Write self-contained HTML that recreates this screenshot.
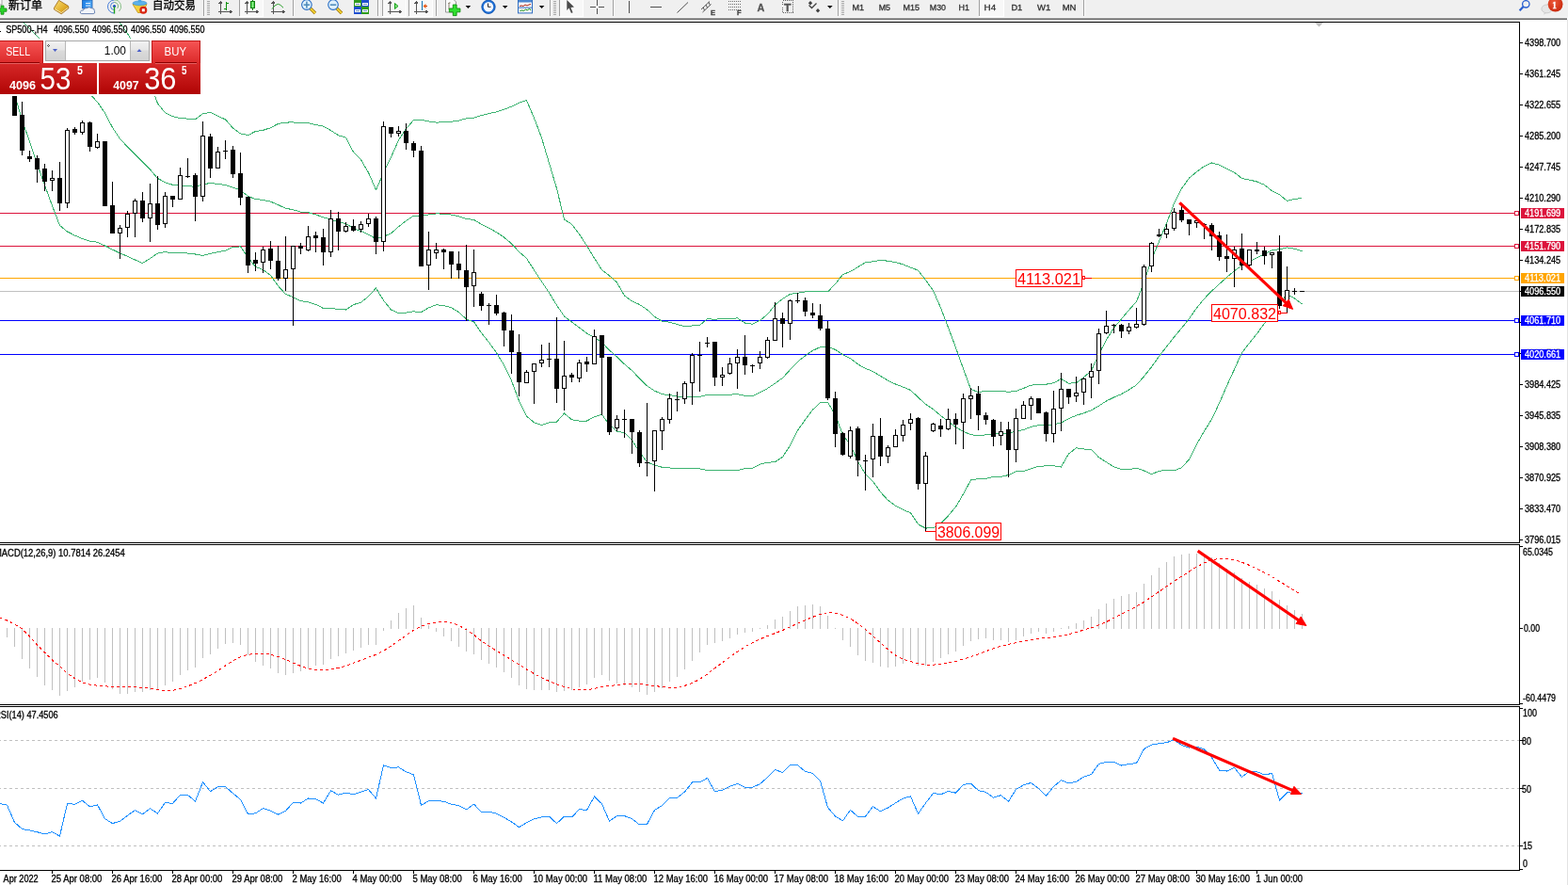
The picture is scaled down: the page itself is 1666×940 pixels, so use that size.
<!DOCTYPE html><html><head><meta charset="utf-8"><title>SP500-,H4</title>
<style>html,body{margin:0;padding:0;background:#fff;overflow:hidden}svg{display:block}text{font-family:'Liberation Sans', Arial, sans-serif}.sl text{stroke:currentColor;stroke-width:0.3}</style></head><body>
<svg width="1666" height="940" viewBox="0 0 1666 940">
<defs>
<linearGradient id="gSellTop" x1="0" y1="0" x2="0" y2="1"><stop offset="0" stop-color="#f65555"/><stop offset="1" stop-color="#dc2a2a"/></linearGradient>
<linearGradient id="gSellBot" x1="0" y1="0" x2="0" y2="1"><stop offset="0" stop-color="#d62828"/><stop offset="1" stop-color="#b00404"/></linearGradient>
<linearGradient id="gBtn" x1="0" y1="0" x2="0" y2="1"><stop offset="0" stop-color="#f2f2f2"/><stop offset="0.45" stop-color="#e6e6e6"/><stop offset="0.5" stop-color="#dadada"/><stop offset="1" stop-color="#d2d2d2"/></linearGradient>
<clipPath id="cMain"><rect x="0" y="24" width="1614" height="552"/></clipPath>
<clipPath id="cMacd"><rect x="0" y="579" width="1614" height="169"/></clipPath>
<clipPath id="cRsi"><rect x="0" y="751" width="1614" height="173"/></clipPath>
</defs>
<rect x="0" y="0" width="1666" height="18" fill="#f0f0f0"/>
<rect x="0" y="18" width="1666" height="1" fill="#f5f5f5"/>
<rect x="0" y="19" width="1665" height="1" fill="#a0a0a0"/>
<rect x="0" y="20" width="1665" height="1" fill="#696969"/>
<rect x="1665" y="21" width="1" height="919" fill="#e3e3e3"/>
<g class="sl">
<path d="M-3,-1 h5 v6 h-5 z" fill="#fafafa" stroke="#909090" stroke-width="0.8"/>
<path d="M-2,9 h3 v-3 h3 v3 h3 v3.2 h-3 v3 h-3 v-3 h-3 z" fill="#2ad42a" stroke="#0f8a0f" stroke-width="0.8"/>
<text x="9" y="9.5" font-size="12" fill="#000" color="#000" textLength="36" lengthAdjust="spacingAndGlyphs" style="font-family:'Liberation Sans','Noto Sans CJK SC','WenQuanYi Zen Hei',sans-serif" stroke="#000" stroke-width="0.25">新订单</text>
<defs><linearGradient id="gGold" x1="0" y1="0" x2="1" y2="1"><stop offset="0" stop-color="#fbe27a"/><stop offset="0.6" stop-color="#e2ae2a"/><stop offset="1" stop-color="#b87c12"/></linearGradient><linearGradient id="gBlueDoc" x1="0" y1="0" x2="1" y2="0"><stop offset="0" stop-color="#1e7fe6"/><stop offset="1" stop-color="#52aaf5"/></linearGradient></defs>
<path d="M62.5,0.3 L72.6,6.4 L72.9,8.8 L65.2,14.8 L57.4,10 L57.6,8.2 Z" fill="url(#gGold)" stroke="#9a6510" stroke-width="0.8"/>
<path d="M58.3,9.6 L65.2,13.6 L72.2,8.2" fill="none" stroke="#f3e2a8" stroke-width="1"/>
<path d="M87.5,0 h10.5 v9 h-10.5 z" fill="url(#gBlueDoc)" stroke="#1a5cb0" stroke-width="0.8"/>
<rect x="91" y="3" width="5" height="1" fill="#e0f0ff"/><rect x="91" y="5.5" width="5" height="1" fill="#e0f0ff"/>
<path d="M86.6,14.6 Q85,14.4 85.4,12.4 Q86,10.6 88.4,11 Q89,8.2 92.4,8.6 Q94.6,6.8 97.2,8.6 Q100.6,8.6 100.4,11.6 Q101.6,14.6 99,14.6 Z" fill="#f2f5fa" stroke="#5c78ac" stroke-width="0.9"/>
<g fill="none" stroke-width="1"><path d="M121.5,0 A7,7 0 0 0 121.5,14" stroke="#4a7fd8"/><path d="M121.5,0 A7,7 0 0 1 126.5,12" stroke="#88c088"/><path d="M121.5,2.5 A4,4 0 0 0 121.5,10.5" stroke="#4a7fd8"/><path d="M121.5,2.5 A4,4 0 0 1 124.8,8.8" stroke="#70b070"/></g>
<circle cx="121.5" cy="6.5" r="1.6" fill="#2050c0"/><path d="M121.5,7 v7.5" stroke="#1da01d" stroke-width="1.4"/>
<path d="M141,4.5 L156,4.5 L151.5,13.5 L146.5,13.5 Z" fill="#f4d23c" stroke="#c09018" stroke-width="0.8"/>
<ellipse cx="148.5" cy="3.4" rx="7.4" ry="2.4" fill="#5cb2ea" stroke="#2f86c8" stroke-width="0.6"/>
<path d="M147,0 h3 l0.5,2.5 h-4 z" fill="#4aa6e6"/>
<circle cx="152.3" cy="10.8" r="4" fill="#d82410"/><rect x="150.8" y="9.3" width="3" height="3" fill="#fff"/>
<text x="162" y="9.5" font-size="12" fill="#000" color="#000" textLength="46" lengthAdjust="spacingAndGlyphs" style="font-family:'Liberation Sans','Noto Sans CJK SC','WenQuanYi Zen Hei',sans-serif" stroke="#000" stroke-width="0.25">自动交易</text>
<g shape-rendering="crispEdges">
<rect x="216" y="0" width="1" height="17" fill="#a0a0a0"/><rect x="217" y="0" width="1" height="17" fill="#fbfbfb"/>
<rect x="220" y="1" width="3" height="1" fill="#a8a8a8"/>
<rect x="220" y="3" width="3" height="1" fill="#a8a8a8"/>
<rect x="220" y="5" width="3" height="1" fill="#a8a8a8"/>
<rect x="220" y="7" width="3" height="1" fill="#a8a8a8"/>
<rect x="220" y="9" width="3" height="1" fill="#a8a8a8"/>
<rect x="220" y="11" width="3" height="1" fill="#a8a8a8"/>
<rect x="220" y="13" width="3" height="1" fill="#a8a8a8"/>
<rect x="220" y="15" width="3" height="1" fill="#a8a8a8"/>
<g fill="#555"><rect x="234" y="2" width="1" height="13"/><rect x="232" y="12" width="13" height="1"/><path d="M232.5,3.5 L234.5,1 L236.5,3.5 Z"/><path d="M244,10.5 L247,12.5 L244,14.5 Z"/></g>
<path d="M240.5,2 v9 M240.5,3.5 h2.5 M240.5,9.5 h-2.5" stroke="#119011" stroke-width="1" fill="none"/>
<rect x="254" y="0" width="1" height="17" fill="#a0a0a0"/>
<rect x="255" y="0" width="24" height="17" fill="#f8f8f8"/>
<rect x="255" y="17" width="25" height="1" fill="#ffffff"/><rect x="279" y="0" width="1" height="17" fill="#ffffff"/>
<g fill="#555"><rect x="262" y="2" width="1" height="13"/><rect x="260" y="12" width="13" height="1"/><path d="M260.5,3.5 L262.5,1 L264.5,3.5 Z"/><path d="M272,10.5 L275,12.5 L272,14.5 Z"/></g>
</g>
<defs><linearGradient id="gCnd" x1="0" y1="0" x2="1" y2="0"><stop offset="0" stop-color="#2ac42a"/><stop offset="0.5" stop-color="#8af08a"/><stop offset="1" stop-color="#20b020"/></linearGradient></defs>
<rect x="268" y="0" width="1" height="11" fill="#0f800f"/><rect x="266.5" y="1.5" width="4" height="7" fill="url(#gCnd)" stroke="#0f800f" stroke-width="1"/>
<g shape-rendering="crispEdges">
<g fill="#555"><rect x="290" y="2" width="1" height="13"/><rect x="288" y="12" width="13" height="1"/><path d="M288.5,3.5 L290.5,1 L292.5,3.5 Z"/><path d="M300,10.5 L303,12.5 L300,14.5 Z"/></g>
</g>
<path d="M289,9.5 Q292,5 295.3,4.3 Q297.5,4.3 301,8.2" fill="none" stroke="#2aa02a" stroke-width="1"/>
<g shape-rendering="crispEdges">
<rect x="311" y="0" width="1" height="17" fill="#a0a0a0"/><rect x="312" y="0" width="1" height="17" fill="#fbfbfb"/>
</g>
<path d="M329.5,8.6 L334.9,14" stroke="#9a6e08" stroke-width="3.4" stroke-linecap="butt"/>
<path d="M329.5,8.6 L334.9,14" stroke="#f0d030" stroke-width="2" stroke-linecap="butt"/>
<circle cx="325.9" cy="5.1" r="5.3" fill="#dff1fc" stroke="#2a6ec4" stroke-width="1.1"/>
<rect x="322.7" y="4.4" width="6.4" height="1.5" fill="#4a88b8"/>
<rect x="325.15" y="1.6" width="1.5" height="7" fill="#4a88b8"/>
<path d="M357.6,8.6 L363,14" stroke="#9a6e08" stroke-width="3.4" stroke-linecap="butt"/>
<path d="M357.6,8.6 L363,14" stroke="#f0d030" stroke-width="2" stroke-linecap="butt"/>
<circle cx="354" cy="5.1" r="5.3" fill="#dff1fc" stroke="#2a6ec4" stroke-width="1.1"/>
<rect x="350.8" y="4.4" width="6.4" height="1.5" fill="#4a88b8"/>
<g shape-rendering="crispEdges"><rect x="376" y="0" width="8" height="7" fill="#2f9a1e"/><rect x="384" y="0" width="8" height="7" fill="#1f4fcf"/><rect x="376" y="7" width="8" height="8" fill="#1f4fcf"/><rect x="384" y="7" width="8" height="8" fill="#2f9a1e"/><g fill="#f4f8f4"><rect x="377" y="3" width="6" height="3"/><rect x="385" y="3" width="6" height="3"/><rect x="377" y="10" width="6" height="3"/><rect x="385" y="10" width="6" height="3"/></g><g fill="#7a9ad0"><rect x="378" y="4" width="4" height="1"/><rect x="386" y="4" width="4" height="1"/><rect x="378" y="11" width="4" height="1"/><rect x="386" y="11" width="4" height="1"/></g></g>
<g shape-rendering="crispEdges">
<rect x="401" y="0" width="1" height="17" fill="#a0a0a0"/><rect x="402" y="0" width="1" height="17" fill="#fbfbfb"/>
<rect x="406" y="0" width="25" height="17" fill="#f8f8f8"/>
<rect x="406" y="17" width="26" height="1" fill="#ffffff"/><rect x="431" y="0" width="1" height="17" fill="#ffffff"/>
<rect x="406" y="0" width="1" height="17" fill="#a0a0a0"/>
<g fill="#555"><rect x="414" y="2" width="1" height="13"/><rect x="412" y="12" width="13" height="1"/><path d="M412.5,3.5 L414.5,1 L416.5,3.5 Z"/><path d="M424,10.5 L427,12.5 L424,14.5 Z"/></g>
</g>
<path d="M419.5,3.5 L423,6.5 L419.5,9.5 Z" fill="#7ee07e" stroke="#15a015" stroke-width="1"/>
<g shape-rendering="crispEdges">
<rect x="435" y="0" width="24" height="17" fill="#f8f8f8"/>
<rect x="435" y="17" width="25" height="1" fill="#ffffff"/><rect x="459" y="0" width="1" height="17" fill="#ffffff"/>
<rect x="434" y="0" width="1" height="17" fill="#a0a0a0"/>
<g fill="#555"><rect x="442" y="2" width="1" height="13"/><rect x="440" y="12" width="13" height="1"/><path d="M440.5,3.5 L442.5,1 L444.5,3.5 Z"/><path d="M452,10.5 L455,12.5 L452,14.5 Z"/></g>
<rect x="448" y="1" width="1" height="10" fill="#1070b0"/>
</g>
<path d="M454,6.5 h-3.5" stroke="#c84010" stroke-width="1.2"/><path d="M449.5,6.5 l3,-2.5 v5 z" fill="#ee5a10"/>
<g shape-rendering="crispEdges">
<rect x="463" y="0" width="1" height="17" fill="#a0a0a0"/><rect x="464" y="0" width="1" height="17" fill="#fbfbfb"/>
</g>
<path d="M473.5,-1 h8 l3,3 v11 h-11 z" fill="#fafafa" stroke="#808080" stroke-width="0.8"/>
<path d="M476.5,4 q1,-2 2,-1 M477,3 v7" stroke="#5a4a30" stroke-width="0.7" fill="none"/>
<path d="M477.3,9 h4 v-4 h3.8 v4 h3.8 v3.8 h-3.8 v3.8 h-3.8 v-3.8 h-4 z" fill="#30e030" stroke="#0c900c" stroke-width="0.9"/>
<path d="M494.6,6 h5.6 l-2.8,3 z" fill="#000"/>
<circle cx="519" cy="7.3" r="7.2" fill="#1d6fd6" stroke="#0f4fa8" stroke-width="0.8"/><circle cx="519" cy="7.3" r="5.2" fill="#f6f9ff"/><path d="M518.5,3.5 v3.8 h3" stroke="#222" stroke-width="1" fill="none"/><rect x="517.5" y="-1" width="3" height="1.5" fill="#1d6fd6"/>
<path d="M533.9,6 h5.6 l-2.8,3 z" fill="#000"/>
<rect x="550.5" y="0.5" width="15" height="13.4" fill="#f8f8f8" stroke="#2f6cc0"/><rect x="551" y="0" width="14" height="2.5" fill="#4a86d0"/><rect x="551" y="7.6" width="14" height="1" fill="#2f6cc0"/>
<path d="M552,6.5 l2,-0.5 l2,0.5 l2,-1.5 l2,1 l2,-1 l2,-0.5" stroke="#b02010" fill="none" stroke-width="1"/><path d="M552.5,11.5 l2,-0.5 l2,0.5 l2,-1.5 l2,1 l2,-2 l1.5,2" stroke="#109010" fill="none" stroke-width="1"/>
<path d="M572.8,6 h5.6 l-2.8,3 z" fill="#000"/>
<g shape-rendering="crispEdges">
<rect x="584" y="0" width="1" height="17" fill="#a0a0a0"/><rect x="585" y="0" width="1" height="17" fill="#fbfbfb"/>
<rect x="588" y="1" width="3" height="1" fill="#a8a8a8"/>
<rect x="588" y="3" width="3" height="1" fill="#a8a8a8"/>
<rect x="588" y="5" width="3" height="1" fill="#a8a8a8"/>
<rect x="588" y="7" width="3" height="1" fill="#a8a8a8"/>
<rect x="588" y="9" width="3" height="1" fill="#a8a8a8"/>
<rect x="588" y="11" width="3" height="1" fill="#a8a8a8"/>
<rect x="588" y="13" width="3" height="1" fill="#a8a8a8"/>
<rect x="588" y="15" width="3" height="1" fill="#a8a8a8"/>
<rect x="595" y="0" width="24" height="17" fill="#f8f8f8"/>
<rect x="595" y="17" width="25" height="1" fill="#ffffff"/><rect x="619" y="0" width="1" height="17" fill="#ffffff"/>
<rect x="594" y="0" width="1" height="17" fill="#a0a0a0"/>
</g>
<path d="M602.3,0 V11 L604.6,8.6 L607,13.9 L608.6,13.2 L606.4,8 L610,7.6 Z" fill="#4a4a4a"/>
<g shape-rendering="crispEdges" fill="#505050"><rect x="627" y="7" width="6" height="1"/><rect x="636" y="7" width="6" height="1"/><rect x="634" y="0" width="1" height="6"/><rect x="634" y="9" width="1" height="6"/>
<rect x="668" y="1" width="1" height="13"/><rect x="691" y="7" width="12" height="1"/></g>
<g shape-rendering="crispEdges">
<rect x="651" y="0" width="1" height="17" fill="#a0a0a0"/><rect x="652" y="0" width="1" height="17" fill="#fbfbfb"/>
</g>
<path d="M719.5,13.5 L731,2.5" stroke="#505050" stroke-width="1" fill="none"/>
<g stroke="#484848" stroke-width="0.9" fill="none"><path d="M745,10 l9,-8.5 M746.5,13 l9,-8.5 M748.5,11 l-1.3,-3.2 M751.5,8.3 l-1.3,-3.2 M754.3,5.5 l-1.3,-3.2"/></g>
<text x="755" y="15.5" font-size="7.5" fill="#404040" color="#404040" font-weight="bold" >E</text>
<g fill="#707070" shape-rendering="crispEdges"><rect x="774" y="1" width="1" height="1"/><rect x="776" y="1" width="1" height="1"/><rect x="778" y="1" width="1" height="1"/><rect x="780" y="1" width="1" height="1"/><rect x="782" y="1" width="1" height="1"/><rect x="784" y="1" width="1" height="1"/><rect x="786" y="1" width="1" height="1"/><rect x="774" y="4" width="1" height="1"/><rect x="776" y="4" width="1" height="1"/><rect x="778" y="4" width="1" height="1"/><rect x="780" y="4" width="1" height="1"/><rect x="782" y="4" width="1" height="1"/><rect x="784" y="4" width="1" height="1"/><rect x="786" y="4" width="1" height="1"/><rect x="774" y="7" width="1" height="1"/><rect x="776" y="7" width="1" height="1"/><rect x="778" y="7" width="1" height="1"/><rect x="780" y="7" width="1" height="1"/><rect x="782" y="7" width="1" height="1"/><rect x="784" y="7" width="1" height="1"/><rect x="786" y="7" width="1" height="1"/><rect x="774" y="10" width="1" height="1"/><rect x="776" y="10" width="1" height="1"/><rect x="778" y="10" width="1" height="1"/><rect x="780" y="10" width="1" height="1"/><rect x="782" y="10" width="1" height="1"/><rect x="784" y="10" width="1" height="1"/><rect x="786" y="10" width="1" height="1"/></g>
<text x="783" y="15.5" font-size="7.5" fill="#404040" color="#404040" font-weight="bold" >F</text>
<text x="804.6" y="12.3" font-size="11.5" fill="#555" color="#555" textLength="7.8" lengthAdjust="spacingAndGlyphs" font-weight="bold" >A</text>
<rect x="831.5" y="0.5" width="11" height="13" fill="none" stroke="#606060" stroke-dasharray="1,1" shape-rendering="crispEdges"/>
<text x="833" y="11.5" font-size="11.5" fill="#555" color="#555" textLength="7.5" lengthAdjust="spacingAndGlyphs" font-weight="bold" >T</text>
<path d="M861,1 l2.2,2.2 l-2.2,2.2 l-2.2,-2.2 z M869,9 l2.2,2.2 l-2.2,2.2 l-2.2,-2.2 z" fill="#404040"/><path d="M859.5,5.5 l3,3 l5,-5" stroke="#404040" stroke-width="1.3" fill="none"/>
<path d="M879,6 h5.6 l-2.8,3 z" fill="#000"/>
<g shape-rendering="crispEdges">
<rect x="890" y="0" width="1" height="17" fill="#a0a0a0"/><rect x="891" y="0" width="1" height="17" fill="#fbfbfb"/>
<rect x="894" y="1" width="3" height="1" fill="#a8a8a8"/>
<rect x="894" y="3" width="3" height="1" fill="#a8a8a8"/>
<rect x="894" y="5" width="3" height="1" fill="#a8a8a8"/>
<rect x="894" y="7" width="3" height="1" fill="#a8a8a8"/>
<rect x="894" y="9" width="3" height="1" fill="#a8a8a8"/>
<rect x="894" y="11" width="3" height="1" fill="#a8a8a8"/>
<rect x="894" y="13" width="3" height="1" fill="#a8a8a8"/>
<rect x="894" y="15" width="3" height="1" fill="#a8a8a8"/>
<rect x="1040" y="0" width="26" height="17" fill="#f8f8f8"/>
<rect x="1040" y="17" width="27" height="1" fill="#ffffff"/><rect x="1066" y="0" width="1" height="17" fill="#ffffff"/>
<rect x="1040" y="0" width="1" height="17" fill="#a0a0a0"/>
<rect x="1151" y="0" width="1" height="17" fill="#a0a0a0"/><rect x="1152" y="0" width="1" height="17" fill="#fbfbfb"/>
</g>
<text x="905.4" y="10.8" font-size="9" fill="#333" color="#333" textLength="12.6" lengthAdjust="spacingAndGlyphs" >M1</text>
<text x="933.7" y="10.8" font-size="9" fill="#333" color="#333" textLength="12.3" lengthAdjust="spacingAndGlyphs" >M5</text>
<text x="959.5" y="10.8" font-size="9" fill="#333" color="#333" textLength="17.5" lengthAdjust="spacingAndGlyphs" >M15</text>
<text x="987.8" y="10.8" font-size="9" fill="#333" color="#333" textLength="17.2" lengthAdjust="spacingAndGlyphs" >M30</text>
<text x="1018.6" y="10.8" font-size="9" fill="#333" color="#333" textLength="11.4" lengthAdjust="spacingAndGlyphs" >H1</text>
<text x="1045.6" y="10.8" font-size="9" fill="#333" color="#333" textLength="12.6" lengthAdjust="spacingAndGlyphs" >H4</text>
<text x="1074.4" y="10.8" font-size="9" fill="#333" color="#333" textLength="11.8" lengthAdjust="spacingAndGlyphs" >D1</text>
<text x="1102" y="10.8" font-size="9" fill="#333" color="#333" textLength="14.2" lengthAdjust="spacingAndGlyphs" >W1</text>
<text x="1128.7" y="10.8" font-size="9" fill="#333" color="#333" textLength="14.8" lengthAdjust="spacingAndGlyphs" >MN</text>
<circle cx="1621.3" cy="4.3" r="3.7" fill="none" stroke="#2a5fd0" stroke-width="1.3"/><path d="M1618.6,7 L1614.6,11.2" stroke="#2a5fd0" stroke-width="2.2"/>
<ellipse cx="1643.6" cy="9.4" rx="5.7" ry="4.4" fill="#e6e6e6" stroke="#c4c4c4" stroke-width="0.8"/><path d="M1641.2,13 l-1.4,2.8 l4,-2.4 z" fill="#d0d0d0"/>
<defs><radialGradient id="gBadge" cx="0.4" cy="0.35" r="0.7"><stop offset="0" stop-color="#ee5a3a"/><stop offset="1" stop-color="#c8280c"/></radialGradient></defs>
<circle cx="1652.6" cy="4.6" r="7.9" fill="url(#gBadge)"/>
<text x="1649.2" y="8.7" font-size="10.5" fill="#fff" color="#fff" textLength="4.6" lengthAdjust="spacingAndGlyphs" font-weight="bold" style="font-family:'Liberation Serif',serif" >1</text>
</g>
<g shape-rendering="crispEdges">
<rect x="0" y="23" width="1615" height="1" fill="#000"/>
<rect x="1614" y="23" width="1" height="554" fill="#000"/>
<rect x="0" y="576" width="1615" height="1" fill="#000"/>
<rect x="0" y="578" width="1615" height="1" fill="#000"/>
<rect x="1614" y="578" width="1" height="171" fill="#000"/>
<rect x="0" y="748" width="1615" height="1" fill="#000"/>
<rect x="0" y="750" width="1615" height="1" fill="#000"/>
<rect x="1614" y="750" width="1" height="175" fill="#000"/>
<rect x="0" y="924" width="1615" height="1" fill="#000"/>
</g>
<g clip-path="url(#cMain)">
<g shape-rendering="crispEdges">
<rect x="0" y="226" width="1609" height="1" fill="#dc143c"/>
<rect x="1609.5" y="224.5" width="4" height="4" fill="#fff" stroke="#dc143c" stroke-width="1"/>
<rect x="0" y="261" width="1609" height="1" fill="#dc143c"/>
<rect x="1609.5" y="259.5" width="4" height="4" fill="#fff" stroke="#dc143c" stroke-width="1"/>
<rect x="0" y="295" width="1609" height="1" fill="#ffa500"/>
<rect x="1609.5" y="293.5" width="4" height="4" fill="#fff" stroke="#ffa500" stroke-width="1"/>
<rect x="0" y="340" width="1609" height="1" fill="#0000ff"/>
<rect x="1609.5" y="338.5" width="4" height="4" fill="#fff" stroke="#0000ff" stroke-width="1"/>
<rect x="0" y="376" width="1609" height="1" fill="#0000ff"/>
<rect x="1609.5" y="374.5" width="4" height="4" fill="#fff" stroke="#0000ff" stroke-width="1"/>
<rect x="0" y="309" width="1614" height="1" fill="#c0c0c0"/>
</g>
<g fill="none" stroke="#3cb371" stroke-width="1" stroke-linejoin="round" shape-rendering="crispEdges">
<polyline points="111.5,-7.5 119.5,10.5 127.5,24.5 135.5,35.5 143.5,50.5 151.5,67.5 159.5,87.5 167.5,109.87 175.5,119.89 183.5,123.7 191.5,125.48 199.5,126.1 207.5,126.75 215.5,120.85 223.5,119.31 231.5,123.3 239.5,126.84 247.5,136.17 255.5,141.85 263.5,143.62 271.5,139.54 279.5,138.32 287.5,135.73 295.5,131.46 303.5,130.06 311.5,129.93 319.5,130.6 327.5,130.7 335.5,132.53 343.5,134.05 351.5,138.5 359.5,143.74 367.5,146.05 375.5,161.55 383.5,169.72 391.5,183.3 399.5,201.68 407.5,183.56 415.5,166.92 423.5,148.78 431.5,136.75 439.5,127.61 447.5,127.34 455.5,129 463.5,130.05 471.5,129.88 479.5,129.18 487.5,128.08 495.5,125.89 503.5,125.11 511.5,122.61 519.5,120.52 527.5,118.81 535.5,116.26 543.5,113.19 551.5,109.04 559.5,106.53 567.5,125.23 575.5,146.47 583.5,173.36 591.5,200.11 599.5,233.05 607.5,238.17 615.5,248.76 623.5,261.06 631.5,274.28 639.5,286.68 647.5,292.85 655.5,300.03 663.5,314.03 671.5,319.88 679.5,323.5 687.5,328.87 695.5,336.34 703.5,341.19 711.5,342.26 719.5,344.46 727.5,346.82 735.5,345.98 743.5,345.31 751.5,338.84 759.5,339.11 767.5,338.76 775.5,338.96 783.5,337.78 791.5,343.08 799.5,344.19 807.5,340.4 815.5,333.83 823.5,323.83 831.5,317.4 839.5,312.37 847.5,311.34 855.5,309.86 863.5,309.5 871.5,309.76 879.5,309.84 887.5,301.77 895.5,291.47 903.5,288.53 911.5,283.67 919.5,278.88 927.5,277.81 935.5,276.34 943.5,277.23 951.5,278.67 959.5,280.84 967.5,284.12 975.5,287.17 983.5,297.54 991.5,308.59 999.5,326.9 1007.5,347.78 1015.5,369.21 1023.5,391.64 1031.5,413.46 1039.5,416.6 1047.5,415.37 1055.5,415.47 1063.5,415.54 1071.5,416.18 1079.5,415.55 1087.5,412.38 1095.5,409.16 1103.5,408.19 1111.5,408.19 1119.5,406.78 1127.5,402.37 1135.5,407.18 1143.5,406.69 1151.5,400.64 1159.5,393.76 1167.5,376.43 1175.5,360.94 1183.5,348.22 1191.5,338.91 1199.5,329.27 1207.5,320.49 1215.5,299.64 1223.5,275.88 1231.5,256.45 1239.5,237.01 1247.5,216.15 1255.5,200.32 1263.5,189.03 1271.5,182.42 1279.5,176.6 1287.5,172.98 1295.5,175.14 1303.5,179.32 1311.5,183.06 1319.5,189.52 1327.5,191.02 1335.5,192.99 1343.5,196.38 1351.5,202.72 1359.5,206.78 1367.5,213.46 1375.5,211.4 1383.5,210.54" />
<polyline points="15.5,14.5 23.5,22.5 31.5,30.5 39.5,38.5 47.5,47 55.5,55.5 63.5,64.5 71.5,73.5 79.5,82 87.5,90.5 95.5,99.5 103.5,108.5 111.5,120 119.5,135.5 127.5,147.5 135.5,156 143.5,164 151.5,172 159.5,180 167.5,189.45 175.5,193.74 183.5,196.34 191.5,197.2 199.5,197.56 207.5,198.38 215.5,196.14 223.5,194.31 231.5,195.47 239.5,196.48 247.5,199.22 255.5,201.89 263.5,208.47 271.5,211.52 279.5,212.37 287.5,214.12 295.5,217.58 303.5,221.25 311.5,222.75 319.5,225.14 327.5,225.73 335.5,227.96 343.5,230.75 351.5,233.05 359.5,236.01 367.5,237.55 375.5,242.56 383.5,245.52 391.5,249.05 399.5,253.84 407.5,251.32 415.5,247.94 423.5,240.82 431.5,234.43 439.5,229.22 447.5,229.49 455.5,227.94 463.5,226.89 471.5,227.2 479.5,228.02 487.5,229.83 495.5,232.42 503.5,233.5 511.5,238.14 519.5,242.08 527.5,246.71 535.5,252.02 543.5,258.79 551.5,267.47 559.5,274.38 567.5,286.98 575.5,299 583.5,311.08 591.5,324.13 599.5,336.03 607.5,341.96 615.5,347.96 623.5,354.05 631.5,358.5 639.5,363.47 647.5,372.06 655.5,379.06 663.5,386.85 671.5,393.58 679.5,401.94 687.5,409.83 695.5,415.15 703.5,418.73 711.5,419.62 719.5,421.04 727.5,422.07 735.5,421.81 743.5,421.6 751.5,419.12 759.5,419.26 767.5,419.08 775.5,419.15 783.5,418.73 791.5,420.31 799.5,420.69 807.5,416.73 815.5,412.57 823.5,407.22 831.5,401.43 839.5,392.78 847.5,384.2 855.5,377.89 863.5,372.35 871.5,368.66 879.5,368.63 887.5,371.31 895.5,376.62 903.5,380.6 911.5,386.9 919.5,391.27 927.5,394.54 935.5,399.45 943.5,404.29 951.5,407.99 959.5,411.14 967.5,414.41 975.5,422.04 983.5,429.3 991.5,434.64 999.5,441.48 1007.5,447.79 1015.5,453.78 1023.5,458.22 1031.5,461.72 1039.5,462.61 1047.5,461.9 1055.5,460.91 1063.5,460.96 1071.5,460.37 1079.5,458.15 1087.5,456.5 1095.5,453.44 1103.5,451.64 1111.5,451.58 1119.5,450.77 1127.5,449.2 1135.5,444.59 1143.5,441.25 1151.5,438.82 1159.5,435.71 1167.5,431.13 1175.5,425.91 1183.5,422.01 1191.5,418.65 1199.5,413.97 1207.5,408.87 1215.5,399.81 1223.5,389.82 1231.5,378.36 1239.5,368.27 1247.5,357.99 1255.5,348.51 1263.5,338.45 1271.5,327.08 1279.5,317.26 1287.5,309.13 1295.5,301.67 1303.5,294.56 1311.5,287.7 1319.5,282.1 1327.5,277.69 1335.5,273.69 1343.5,270.01 1351.5,265.82 1359.5,264.72 1367.5,262.91 1375.5,264.23 1383.5,266.8" />
<polyline points="15.5,100.5 23.5,127.5 31.5,150.5 39.5,174.5 47.5,196.5 55.5,218.5 63.5,239.5 71.5,246 79.5,250.1 87.5,253.5 95.5,256.2 103.5,257.2 111.5,261 119.5,265.1 127.5,268.9 135.5,272.3 143.5,276 151.5,279.5 159.5,274.5 167.5,269.04 175.5,267.59 183.5,268.97 191.5,268.93 199.5,269.01 207.5,270 215.5,271.43 223.5,269.31 231.5,267.64 239.5,266.12 247.5,262.26 255.5,261.94 263.5,273.31 271.5,283.51 279.5,286.41 287.5,292.51 295.5,303.7 303.5,312.45 311.5,315.57 319.5,319.69 327.5,320.77 335.5,323.39 343.5,327.45 351.5,327.6 359.5,328.28 367.5,329.06 375.5,323.58 383.5,321.31 391.5,314.81 399.5,306 407.5,319.07 415.5,328.97 423.5,332.85 431.5,332.11 439.5,330.83 447.5,331.63 455.5,326.89 463.5,323.72 471.5,324.51 479.5,326.85 487.5,331.58 495.5,338.95 503.5,341.9 511.5,353.68 519.5,363.64 527.5,374.61 535.5,387.78 543.5,404.38 551.5,425.89 559.5,442.22 567.5,448.74 575.5,451.52 583.5,448.81 591.5,448.15 599.5,439.02 607.5,445.76 615.5,447.15 623.5,447.04 631.5,442.72 639.5,440.25 647.5,451.27 655.5,458.08 663.5,459.67 671.5,467.28 679.5,480.39 687.5,490.79 695.5,493.97 703.5,496.28 711.5,496.97 719.5,497.62 727.5,497.32 735.5,497.64 743.5,497.89 751.5,499.4 759.5,499.41 767.5,499.4 775.5,499.35 783.5,499.68 791.5,497.54 799.5,497.2 807.5,493.06 815.5,491.31 823.5,490.61 831.5,485.46 839.5,473.19 847.5,457.07 855.5,445.92 863.5,435.2 871.5,427.56 879.5,427.42 887.5,440.85 895.5,461.77 903.5,472.68 911.5,490.12 919.5,503.66 927.5,511.28 935.5,522.56 943.5,531.34 951.5,537.32 959.5,541.44 967.5,544.69 975.5,556.91 983.5,561.06 991.5,560.68 999.5,556.07 1007.5,547.8 1015.5,538.35 1023.5,524.79 1031.5,509.98 1039.5,508.62 1047.5,508.42 1055.5,506.35 1063.5,506.38 1071.5,504.56 1079.5,500.74 1087.5,500.62 1095.5,497.72 1103.5,495.08 1111.5,494.97 1119.5,494.76 1127.5,496.03 1135.5,482 1143.5,475.81 1151.5,477 1159.5,477.66 1167.5,485.82 1175.5,490.88 1183.5,495.8 1191.5,498.39 1199.5,498.67 1207.5,497.25 1215.5,499.99 1223.5,503.75 1231.5,500.27 1239.5,499.54 1247.5,499.84 1255.5,496.71 1263.5,487.87 1271.5,471.75 1279.5,457.93 1287.5,445.27 1295.5,428.2 1303.5,409.8 1311.5,392.34 1319.5,374.68 1327.5,364.36 1335.5,354.4 1343.5,343.64 1351.5,328.91 1359.5,322.67 1367.5,312.36 1375.5,317.06 1383.5,323.07" />
</g>
<g fill="#000" shape-rendering="crispEdges">
<rect x="15" y="102" width="1" height="21"/>
<rect x="13" y="102" width="5" height="21"/>
<rect x="23" y="108" width="1" height="57"/>
<rect x="21" y="122" width="5" height="38"/>
<rect x="31" y="160" width="1" height="12"/>
<rect x="29" y="166" width="5" height="3"/>
<rect x="39" y="165" width="1" height="29"/>
<rect x="37" y="168" width="5" height="12"/>
<rect x="47" y="174" width="1" height="29"/>
<rect x="45" y="179" width="5" height="14"/>
<rect x="55" y="181" width="1" height="22"/>
<rect x="53" y="189" width="5" height="3"/>
<rect x="54" y="190" width="3" height="1" fill="#fff"/>
<rect x="63" y="172" width="1" height="52"/>
<rect x="61" y="189" width="5" height="27"/>
<rect x="71" y="136" width="1" height="85"/>
<rect x="69" y="138" width="5" height="78"/>
<rect x="70" y="139" width="3" height="76" fill="#fff"/>
<rect x="79" y="135" width="1" height="8"/>
<rect x="77" y="137" width="5" height="4"/>
<rect x="87" y="128" width="1" height="15"/>
<rect x="85" y="130" width="5" height="11"/>
<rect x="86" y="131" width="3" height="9" fill="#fff"/>
<rect x="95" y="129" width="1" height="32"/>
<rect x="93" y="130" width="5" height="26"/>
<rect x="103" y="142" width="1" height="16"/>
<rect x="101" y="150" width="5" height="7"/>
<rect x="102" y="151" width="3" height="5" fill="#fff"/>
<rect x="111" y="150" width="1" height="69"/>
<rect x="109" y="150" width="5" height="69"/>
<rect x="119" y="193" width="1" height="55"/>
<rect x="117" y="218" width="5" height="30"/>
<rect x="127" y="239" width="1" height="36"/>
<rect x="125" y="242" width="5" height="6"/>
<rect x="126" y="243" width="3" height="4" fill="#fff"/>
<rect x="135" y="224" width="1" height="28"/>
<rect x="133" y="227" width="5" height="15"/>
<rect x="134" y="228" width="3" height="13" fill="#fff"/>
<rect x="143" y="211" width="1" height="41"/>
<rect x="141" y="213" width="5" height="14"/>
<rect x="142" y="214" width="3" height="12" fill="#fff"/>
<rect x="151" y="204" width="1" height="32"/>
<rect x="149" y="213" width="5" height="19"/>
<rect x="159" y="195" width="1" height="62"/>
<rect x="157" y="216" width="5" height="16"/>
<rect x="158" y="217" width="3" height="14" fill="#fff"/>
<rect x="167" y="187" width="1" height="57"/>
<rect x="165" y="216" width="5" height="23"/>
<rect x="175" y="204" width="1" height="38"/>
<rect x="173" y="208" width="5" height="30"/>
<rect x="174" y="209" width="3" height="28" fill="#fff"/>
<rect x="183" y="208" width="1" height="12"/>
<rect x="181" y="208" width="5" height="4"/>
<rect x="191" y="178" width="1" height="34"/>
<rect x="189" y="186" width="5" height="26"/>
<rect x="190" y="187" width="3" height="24" fill="#fff"/>
<rect x="199" y="168" width="1" height="21"/>
<rect x="197" y="187" width="5" height="1"/>
<rect x="207" y="184" width="1" height="51"/>
<rect x="205" y="186" width="5" height="23"/>
<rect x="215" y="129" width="1" height="85"/>
<rect x="213" y="144" width="5" height="65"/>
<rect x="214" y="145" width="3" height="63" fill="#fff"/>
<rect x="223" y="142" width="1" height="47"/>
<rect x="221" y="145" width="5" height="34"/>
<rect x="231" y="156" width="1" height="23"/>
<rect x="229" y="161" width="5" height="18"/>
<rect x="230" y="162" width="3" height="16" fill="#fff"/>
<rect x="239" y="149" width="1" height="20"/>
<rect x="237" y="160" width="5" height="1"/>
<rect x="247" y="155" width="1" height="34"/>
<rect x="245" y="159" width="5" height="26"/>
<rect x="255" y="162" width="1" height="56"/>
<rect x="253" y="184" width="5" height="26"/>
<rect x="263" y="209" width="1" height="81"/>
<rect x="261" y="209" width="5" height="73"/>
<rect x="271" y="268" width="1" height="20"/>
<rect x="269" y="276" width="5" height="4"/>
<rect x="279" y="262" width="1" height="28"/>
<rect x="277" y="265" width="5" height="14"/>
<rect x="278" y="266" width="3" height="12" fill="#fff"/>
<rect x="287" y="256" width="1" height="30"/>
<rect x="285" y="264" width="5" height="13"/>
<rect x="295" y="261" width="1" height="37"/>
<rect x="293" y="277" width="5" height="19"/>
<rect x="303" y="251" width="1" height="58"/>
<rect x="301" y="286" width="5" height="10"/>
<rect x="302" y="287" width="3" height="8" fill="#fff"/>
<rect x="311" y="261" width="1" height="85"/>
<rect x="309" y="261" width="5" height="25"/>
<rect x="310" y="262" width="3" height="23" fill="#fff"/>
<rect x="319" y="258" width="1" height="12"/>
<rect x="317" y="261" width="5" height="3"/>
<rect x="327" y="240" width="1" height="27"/>
<rect x="325" y="251" width="5" height="15"/>
<rect x="326" y="252" width="3" height="13" fill="#fff"/>
<rect x="335" y="246" width="1" height="22"/>
<rect x="333" y="250" width="5" height="3"/>
<rect x="343" y="243" width="1" height="39"/>
<rect x="341" y="252" width="5" height="16"/>
<rect x="351" y="223" width="1" height="50"/>
<rect x="349" y="232" width="5" height="36"/>
<rect x="350" y="233" width="3" height="34" fill="#fff"/>
<rect x="359" y="225" width="1" height="41"/>
<rect x="357" y="232" width="5" height="14"/>
<rect x="367" y="236" width="1" height="11"/>
<rect x="365" y="240" width="5" height="6"/>
<rect x="366" y="241" width="3" height="4" fill="#fff"/>
<rect x="375" y="233" width="1" height="13"/>
<rect x="373" y="240" width="5" height="5"/>
<rect x="383" y="235" width="1" height="12"/>
<rect x="381" y="238" width="5" height="6"/>
<rect x="382" y="239" width="3" height="4" fill="#fff"/>
<rect x="391" y="227" width="1" height="14"/>
<rect x="389" y="232" width="5" height="6"/>
<rect x="390" y="233" width="3" height="4" fill="#fff"/>
<rect x="399" y="230" width="1" height="40"/>
<rect x="397" y="232" width="5" height="25"/>
<rect x="407" y="129" width="1" height="138"/>
<rect x="405" y="134" width="5" height="123"/>
<rect x="406" y="135" width="3" height="121" fill="#fff"/>
<rect x="415" y="135" width="1" height="11"/>
<rect x="413" y="135" width="5" height="7"/>
<rect x="423" y="134" width="1" height="11"/>
<rect x="421" y="139" width="5" height="3"/>
<rect x="422" y="140" width="3" height="1" fill="#fff"/>
<rect x="431" y="131" width="1" height="28"/>
<rect x="429" y="139" width="5" height="13"/>
<rect x="439" y="150" width="1" height="17"/>
<rect x="437" y="152" width="5" height="8"/>
<rect x="447" y="155" width="1" height="128"/>
<rect x="445" y="160" width="5" height="123"/>
<rect x="455" y="246" width="1" height="62"/>
<rect x="453" y="265" width="5" height="17"/>
<rect x="454" y="266" width="3" height="15" fill="#fff"/>
<rect x="463" y="258" width="1" height="17"/>
<rect x="461" y="265" width="5" height="4"/>
<rect x="462" y="266" width="3" height="2" fill="#fff"/>
<rect x="471" y="264" width="1" height="22"/>
<rect x="469" y="265" width="5" height="3"/>
<rect x="479" y="267" width="1" height="29"/>
<rect x="477" y="267" width="5" height="14"/>
<rect x="487" y="267" width="1" height="29"/>
<rect x="485" y="280" width="5" height="7"/>
<rect x="495" y="260" width="1" height="81"/>
<rect x="493" y="287" width="5" height="18"/>
<rect x="503" y="265" width="1" height="61"/>
<rect x="501" y="289" width="5" height="15"/>
<rect x="502" y="290" width="3" height="13" fill="#fff"/>
<rect x="511" y="310" width="1" height="20"/>
<rect x="509" y="312" width="5" height="13"/>
<rect x="519" y="322" width="1" height="23"/>
<rect x="517" y="324" width="5" height="1"/>
<rect x="527" y="313" width="1" height="22"/>
<rect x="525" y="324" width="5" height="9"/>
<rect x="535" y="331" width="1" height="37"/>
<rect x="533" y="332" width="5" height="19"/>
<rect x="543" y="334" width="1" height="63"/>
<rect x="541" y="351" width="5" height="23"/>
<rect x="551" y="355" width="1" height="66"/>
<rect x="549" y="374" width="5" height="32"/>
<rect x="559" y="393" width="1" height="14"/>
<rect x="557" y="395" width="5" height="12"/>
<rect x="558" y="396" width="3" height="10" fill="#fff"/>
<rect x="567" y="386" width="1" height="43"/>
<rect x="565" y="386" width="5" height="9"/>
<rect x="566" y="387" width="3" height="7" fill="#fff"/>
<rect x="575" y="366" width="1" height="24"/>
<rect x="573" y="382" width="5" height="4"/>
<rect x="574" y="383" width="3" height="2" fill="#fff"/>
<rect x="583" y="364" width="1" height="26"/>
<rect x="581" y="381" width="5" height="1"/>
<rect x="591" y="337" width="1" height="91"/>
<rect x="589" y="381" width="5" height="32"/>
<rect x="599" y="362" width="1" height="74"/>
<rect x="597" y="399" width="5" height="14"/>
<rect x="598" y="400" width="3" height="12" fill="#fff"/>
<rect x="607" y="396" width="1" height="10"/>
<rect x="605" y="398" width="5" height="3"/>
<rect x="615" y="382" width="1" height="24"/>
<rect x="613" y="385" width="5" height="17"/>
<rect x="614" y="386" width="3" height="15" fill="#fff"/>
<rect x="623" y="379" width="1" height="16"/>
<rect x="621" y="384" width="5" height="3"/>
<rect x="631" y="350" width="1" height="37"/>
<rect x="629" y="357" width="5" height="30"/>
<rect x="630" y="358" width="3" height="28" fill="#fff"/>
<rect x="639" y="356" width="1" height="85"/>
<rect x="637" y="356" width="5" height="24"/>
<rect x="647" y="379" width="1" height="83"/>
<rect x="645" y="379" width="5" height="80"/>
<rect x="655" y="441" width="1" height="17"/>
<rect x="653" y="445" width="5" height="10"/>
<rect x="654" y="446" width="3" height="8" fill="#fff"/>
<rect x="663" y="435" width="1" height="30"/>
<rect x="661" y="445" width="5" height="1"/>
<rect x="671" y="445" width="1" height="37"/>
<rect x="669" y="445" width="5" height="14"/>
<rect x="679" y="457" width="1" height="39"/>
<rect x="677" y="459" width="5" height="33"/>
<rect x="687" y="428" width="1" height="78"/>
<rect x="685" y="491" width="5" height="1"/>
<rect x="695" y="457" width="1" height="65"/>
<rect x="693" y="457" width="5" height="33"/>
<rect x="694" y="458" width="3" height="31" fill="#fff"/>
<rect x="703" y="443" width="1" height="35"/>
<rect x="701" y="445" width="5" height="13"/>
<rect x="702" y="446" width="3" height="11" fill="#fff"/>
<rect x="711" y="418" width="1" height="32"/>
<rect x="709" y="423" width="5" height="23"/>
<rect x="710" y="424" width="3" height="21" fill="#fff"/>
<rect x="719" y="416" width="1" height="21"/>
<rect x="717" y="424" width="5" height="1"/>
<rect x="727" y="405" width="1" height="24"/>
<rect x="725" y="407" width="5" height="17"/>
<rect x="726" y="408" width="3" height="15" fill="#fff"/>
<rect x="735" y="375" width="1" height="55"/>
<rect x="733" y="377" width="5" height="30"/>
<rect x="734" y="378" width="3" height="28" fill="#fff"/>
<rect x="743" y="363" width="1" height="53"/>
<rect x="741" y="377" width="5" height="1"/>
<rect x="751" y="358" width="1" height="11"/>
<rect x="749" y="364" width="5" height="1"/>
<rect x="759" y="363" width="1" height="47"/>
<rect x="757" y="363" width="5" height="38"/>
<rect x="767" y="390" width="1" height="20"/>
<rect x="765" y="398" width="5" height="3"/>
<rect x="766" y="399" width="3" height="1" fill="#fff"/>
<rect x="775" y="380" width="1" height="18"/>
<rect x="773" y="386" width="5" height="11"/>
<rect x="774" y="387" width="3" height="9" fill="#fff"/>
<rect x="783" y="371" width="1" height="42"/>
<rect x="781" y="379" width="5" height="7"/>
<rect x="782" y="380" width="3" height="5" fill="#fff"/>
<rect x="791" y="356" width="1" height="42"/>
<rect x="789" y="379" width="5" height="9"/>
<rect x="799" y="387" width="1" height="9"/>
<rect x="797" y="388" width="5" height="1"/>
<rect x="807" y="373" width="1" height="19"/>
<rect x="805" y="379" width="5" height="7"/>
<rect x="806" y="380" width="3" height="5" fill="#fff"/>
<rect x="815" y="358" width="1" height="23"/>
<rect x="813" y="361" width="5" height="19"/>
<rect x="814" y="362" width="3" height="17" fill="#fff"/>
<rect x="823" y="321" width="1" height="41"/>
<rect x="821" y="338" width="5" height="24"/>
<rect x="822" y="339" width="3" height="22" fill="#fff"/>
<rect x="831" y="332" width="1" height="37"/>
<rect x="829" y="338" width="5" height="6"/>
<rect x="839" y="318" width="1" height="43"/>
<rect x="837" y="319" width="5" height="25"/>
<rect x="838" y="320" width="3" height="23" fill="#fff"/>
<rect x="847" y="311" width="1" height="11"/>
<rect x="845" y="319" width="5" height="1"/>
<rect x="855" y="316" width="1" height="20"/>
<rect x="853" y="319" width="5" height="12"/>
<rect x="863" y="322" width="1" height="16"/>
<rect x="861" y="332" width="5" height="3"/>
<rect x="871" y="323" width="1" height="28"/>
<rect x="869" y="335" width="5" height="14"/>
<rect x="879" y="341" width="1" height="84"/>
<rect x="877" y="349" width="5" height="74"/>
<rect x="887" y="416" width="1" height="59"/>
<rect x="885" y="423" width="5" height="38"/>
<rect x="895" y="459" width="1" height="25"/>
<rect x="893" y="460" width="5" height="23"/>
<rect x="903" y="453" width="1" height="34"/>
<rect x="901" y="457" width="5" height="28"/>
<rect x="902" y="458" width="3" height="26" fill="#fff"/>
<rect x="911" y="453" width="1" height="53"/>
<rect x="909" y="455" width="5" height="34"/>
<rect x="919" y="483" width="1" height="38"/>
<rect x="917" y="489" width="5" height="1"/>
<rect x="927" y="450" width="1" height="57"/>
<rect x="925" y="463" width="5" height="25"/>
<rect x="926" y="464" width="3" height="23" fill="#fff"/>
<rect x="935" y="444" width="1" height="51"/>
<rect x="933" y="463" width="5" height="22"/>
<rect x="943" y="473" width="1" height="19"/>
<rect x="941" y="475" width="5" height="10"/>
<rect x="942" y="476" width="3" height="8" fill="#fff"/>
<rect x="951" y="456" width="1" height="19"/>
<rect x="949" y="462" width="5" height="13"/>
<rect x="950" y="463" width="3" height="11" fill="#fff"/>
<rect x="959" y="446" width="1" height="23"/>
<rect x="957" y="451" width="5" height="12"/>
<rect x="958" y="452" width="3" height="10" fill="#fff"/>
<rect x="967" y="439" width="1" height="18"/>
<rect x="965" y="445" width="5" height="5"/>
<rect x="966" y="446" width="3" height="3" fill="#fff"/>
<rect x="975" y="443" width="1" height="77"/>
<rect x="973" y="444" width="5" height="70"/>
<rect x="983" y="480" width="1" height="84"/>
<rect x="981" y="484" width="5" height="30"/>
<rect x="982" y="485" width="3" height="28" fill="#fff"/>
<rect x="991" y="449" width="1" height="10"/>
<rect x="989" y="450" width="5" height="8"/>
<rect x="990" y="451" width="3" height="6" fill="#fff"/>
<rect x="999" y="445" width="1" height="19"/>
<rect x="997" y="452" width="5" height="4"/>
<rect x="1007" y="434" width="1" height="23"/>
<rect x="1005" y="445" width="5" height="11"/>
<rect x="1006" y="446" width="3" height="9" fill="#fff"/>
<rect x="1015" y="439" width="1" height="33"/>
<rect x="1013" y="445" width="5" height="6"/>
<rect x="1023" y="418" width="1" height="59"/>
<rect x="1021" y="423" width="5" height="26"/>
<rect x="1022" y="424" width="3" height="24" fill="#fff"/>
<rect x="1031" y="412" width="1" height="33"/>
<rect x="1029" y="420" width="5" height="4"/>
<rect x="1030" y="421" width="3" height="2" fill="#fff"/>
<rect x="1039" y="410" width="1" height="47"/>
<rect x="1037" y="418" width="5" height="23"/>
<rect x="1047" y="438" width="1" height="13"/>
<rect x="1045" y="441" width="5" height="5"/>
<rect x="1055" y="445" width="1" height="29"/>
<rect x="1053" y="446" width="5" height="18"/>
<rect x="1063" y="448" width="1" height="25"/>
<rect x="1061" y="458" width="5" height="5"/>
<rect x="1062" y="459" width="3" height="3" fill="#fff"/>
<rect x="1071" y="448" width="1" height="59"/>
<rect x="1069" y="456" width="5" height="22"/>
<rect x="1079" y="434" width="1" height="57"/>
<rect x="1077" y="444" width="5" height="34"/>
<rect x="1078" y="445" width="3" height="32" fill="#fff"/>
<rect x="1087" y="426" width="1" height="19"/>
<rect x="1085" y="430" width="5" height="15"/>
<rect x="1086" y="431" width="3" height="13" fill="#fff"/>
<rect x="1095" y="421" width="1" height="25"/>
<rect x="1093" y="423" width="5" height="8"/>
<rect x="1094" y="424" width="3" height="6" fill="#fff"/>
<rect x="1103" y="423" width="1" height="16"/>
<rect x="1101" y="423" width="5" height="16"/>
<rect x="1111" y="437" width="1" height="32"/>
<rect x="1109" y="438" width="5" height="23"/>
<rect x="1119" y="415" width="1" height="55"/>
<rect x="1117" y="434" width="5" height="27"/>
<rect x="1118" y="435" width="3" height="25" fill="#fff"/>
<rect x="1127" y="396" width="1" height="62"/>
<rect x="1125" y="413" width="5" height="21"/>
<rect x="1126" y="414" width="3" height="19" fill="#fff"/>
<rect x="1135" y="413" width="1" height="16"/>
<rect x="1133" y="413" width="5" height="9"/>
<rect x="1143" y="400" width="1" height="27"/>
<rect x="1141" y="417" width="5" height="4"/>
<rect x="1142" y="418" width="3" height="2" fill="#fff"/>
<rect x="1151" y="401" width="1" height="29"/>
<rect x="1149" y="402" width="5" height="15"/>
<rect x="1150" y="403" width="3" height="13" fill="#fff"/>
<rect x="1159" y="386" width="1" height="37"/>
<rect x="1157" y="394" width="5" height="7"/>
<rect x="1158" y="395" width="3" height="5" fill="#fff"/>
<rect x="1167" y="349" width="1" height="59"/>
<rect x="1165" y="354" width="5" height="40"/>
<rect x="1166" y="355" width="3" height="38" fill="#fff"/>
<rect x="1175" y="330" width="1" height="25"/>
<rect x="1173" y="346" width="5" height="8"/>
<rect x="1174" y="347" width="3" height="6" fill="#fff"/>
<rect x="1183" y="344" width="1" height="10"/>
<rect x="1181" y="345" width="5" height="1"/>
<rect x="1191" y="344" width="1" height="15"/>
<rect x="1189" y="345" width="5" height="7"/>
<rect x="1199" y="343" width="1" height="12"/>
<rect x="1197" y="347" width="5" height="5"/>
<rect x="1198" y="348" width="3" height="3" fill="#fff"/>
<rect x="1207" y="327" width="1" height="22"/>
<rect x="1205" y="344" width="5" height="4"/>
<rect x="1206" y="345" width="3" height="2" fill="#fff"/>
<rect x="1215" y="281" width="1" height="65"/>
<rect x="1213" y="283" width="5" height="62"/>
<rect x="1214" y="284" width="3" height="60" fill="#fff"/>
<rect x="1223" y="257" width="1" height="32"/>
<rect x="1221" y="258" width="5" height="25"/>
<rect x="1222" y="259" width="3" height="23" fill="#fff"/>
<rect x="1231" y="243" width="1" height="9"/>
<rect x="1229" y="249" width="5" height="2"/>
<rect x="1239" y="238" width="1" height="15"/>
<rect x="1237" y="243" width="5" height="6"/>
<rect x="1238" y="244" width="3" height="4" fill="#fff"/>
<rect x="1247" y="221" width="1" height="24"/>
<rect x="1245" y="225" width="5" height="18"/>
<rect x="1246" y="226" width="3" height="16" fill="#fff"/>
<rect x="1255" y="219" width="1" height="17"/>
<rect x="1253" y="223" width="5" height="11"/>
<rect x="1263" y="233" width="1" height="17"/>
<rect x="1261" y="233" width="5" height="5"/>
<rect x="1271" y="233" width="1" height="9"/>
<rect x="1269" y="234" width="5" height="3"/>
<rect x="1270" y="235" width="3" height="1" fill="#fff"/>
<rect x="1279" y="237" width="1" height="17"/>
<rect x="1277" y="238" width="5" height="1"/>
<rect x="1287" y="237" width="1" height="29"/>
<rect x="1285" y="239" width="5" height="12"/>
<rect x="1295" y="246" width="1" height="31"/>
<rect x="1293" y="250" width="5" height="23"/>
<rect x="1303" y="249" width="1" height="40"/>
<rect x="1301" y="272" width="5" height="3"/>
<rect x="1311" y="262" width="1" height="43"/>
<rect x="1309" y="265" width="5" height="10"/>
<rect x="1310" y="266" width="3" height="8" fill="#fff"/>
<rect x="1319" y="248" width="1" height="39"/>
<rect x="1317" y="264" width="5" height="18"/>
<rect x="1327" y="265" width="1" height="18"/>
<rect x="1325" y="265" width="5" height="17"/>
<rect x="1326" y="266" width="3" height="15" fill="#fff"/>
<rect x="1335" y="257" width="1" height="13"/>
<rect x="1333" y="265" width="5" height="2"/>
<rect x="1343" y="262" width="1" height="19"/>
<rect x="1341" y="266" width="5" height="6"/>
<rect x="1351" y="268" width="1" height="17"/>
<rect x="1349" y="268" width="5" height="3"/>
<rect x="1350" y="269" width="3" height="1" fill="#fff"/>
<rect x="1359" y="250" width="1" height="78"/>
<rect x="1357" y="267" width="5" height="58"/>
<rect x="1367" y="283" width="1" height="49"/>
<rect x="1365" y="308" width="5" height="17"/>
<rect x="1366" y="309" width="3" height="15" fill="#fff"/>
<rect x="1375" y="306" width="1" height="7"/>
<rect x="1373" y="309" width="5" height="1"/>
<rect x="1381" y="309" width="5" height="1"/>
</g>
<g shape-rendering="crispEdges"><rect x="1150" y="295" width="10" height="1" fill="#ff0000"/><rect x="1150.5" y="293.5" width="2" height="3" fill="#fff" stroke="#ff0000"/></g>
<rect x="1079.5" y="286.5" width="70" height="18" fill="#fff" stroke="#ff0000" stroke-width="1" shape-rendering="crispEdges"/>
<text x="1081" y="302" font-size="16" fill="#ff0000" color="#ff0000" textLength="67" lengthAdjust="spacingAndGlyphs" >4113.021</text>
<rect x="983" y="564" width="11" height="1" fill="#ff0000" shape-rendering="crispEdges"/>
<rect x="994.5" y="555.5" width="69" height="18" fill="#fff" stroke="#ff0000" stroke-width="1" shape-rendering="crispEdges"/>
<text x="996" y="571" font-size="16" fill="#ff0000" color="#ff0000" textLength="66" lengthAdjust="spacingAndGlyphs" >3806.099</text>
<g shape-rendering="crispEdges"><rect x="1358" y="332" width="10" height="1" fill="#ff0000"/><rect x="1358.5" y="330.5" width="2" height="3" fill="#fff" stroke="#ff0000"/></g>
<rect x="1287.5" y="323.5" width="70" height="18" fill="#fff" stroke="#ff0000" stroke-width="1" shape-rendering="crispEdges"/>
<text x="1289" y="339" font-size="16" fill="#ff0000" color="#ff0000" textLength="67" lengthAdjust="spacingAndGlyphs" >4070.832</text>
<line x1="1254.5" y1="216.4" x2="1367.63" y2="322.78" stroke="#ff0000" stroke-width="3.2" stroke-linecap="square"/>
<path d="M1373.6,328.4 L1363.09,324.69 L1369.25,318.13 Z" fill="#ff0000" stroke="#ff0000" stroke-width="1" stroke-linejoin="round"/>
<path d="M1397,24 L1406,24 L1401.5,28.6 Z" fill="#c0c0c0"/>
</g>
<g clip-path="url(#cMacd)">
<g fill="#c0c0c0" shape-rendering="crispEdges">
<rect x="7" y="667" width="1" height="10"/>
<rect x="15" y="667" width="1" height="20"/>
<rect x="23" y="667" width="1" height="33"/>
<rect x="31" y="667" width="1" height="43"/>
<rect x="39" y="667" width="1" height="52"/>
<rect x="47" y="667" width="1" height="61"/>
<rect x="55" y="667" width="1" height="66"/>
<rect x="63" y="667" width="1" height="72"/>
<rect x="71" y="667" width="1" height="67"/>
<rect x="79" y="667" width="1" height="63"/>
<rect x="87" y="667" width="1" height="57"/>
<rect x="95" y="667" width="1" height="55"/>
<rect x="103" y="667" width="1" height="53"/>
<rect x="111" y="667" width="1" height="58"/>
<rect x="119" y="667" width="1" height="65"/>
<rect x="127" y="667" width="1" height="70"/>
<rect x="135" y="667" width="1" height="70"/>
<rect x="143" y="667" width="1" height="68"/>
<rect x="151" y="667" width="1" height="68"/>
<rect x="159" y="667" width="1" height="66"/>
<rect x="167" y="667" width="1" height="66"/>
<rect x="175" y="667" width="1" height="61"/>
<rect x="183" y="667" width="1" height="57"/>
<rect x="191" y="667" width="1" height="50"/>
<rect x="199" y="667" width="1" height="45"/>
<rect x="207" y="667" width="1" height="42"/>
<rect x="215" y="667" width="1" height="32"/>
<rect x="223" y="667" width="1" height="28"/>
<rect x="231" y="667" width="1" height="22"/>
<rect x="239" y="667" width="1" height="17"/>
<rect x="247" y="667" width="1" height="16"/>
<rect x="255" y="667" width="1" height="18"/>
<rect x="263" y="667" width="1" height="29"/>
<rect x="271" y="667" width="1" height="36"/>
<rect x="279" y="667" width="1" height="40"/>
<rect x="287" y="667" width="1" height="43"/>
<rect x="295" y="667" width="1" height="48"/>
<rect x="303" y="667" width="1" height="50"/>
<rect x="311" y="667" width="1" height="48"/>
<rect x="319" y="667" width="1" height="46"/>
<rect x="327" y="667" width="1" height="43"/>
<rect x="335" y="667" width="1" height="40"/>
<rect x="343" y="667" width="1" height="39"/>
<rect x="351" y="667" width="1" height="33"/>
<rect x="359" y="667" width="1" height="30"/>
<rect x="367" y="667" width="1" height="27"/>
<rect x="375" y="667" width="1" height="24"/>
<rect x="383" y="667" width="1" height="21"/>
<rect x="391" y="667" width="1" height="18"/>
<rect x="399" y="667" width="1" height="18"/>
<rect x="407" y="667" width="1" height="3"/>
<rect x="415" y="659" width="1" height="9"/>
<rect x="423" y="651" width="1" height="17"/>
<rect x="431" y="646" width="1" height="22"/>
<rect x="439" y="643" width="1" height="25"/>
<rect x="447" y="656" width="1" height="12"/>
<rect x="455" y="664" width="1" height="4"/>
<rect x="463" y="667" width="1" height="4"/>
<rect x="471" y="667" width="1" height="9"/>
<rect x="479" y="667" width="1" height="14"/>
<rect x="487" y="667" width="1" height="20"/>
<rect x="495" y="667" width="1" height="25"/>
<rect x="503" y="667" width="1" height="28"/>
<rect x="511" y="667" width="1" height="34"/>
<rect x="519" y="667" width="1" height="38"/>
<rect x="527" y="667" width="1" height="42"/>
<rect x="535" y="667" width="1" height="47"/>
<rect x="543" y="667" width="1" height="53"/>
<rect x="551" y="667" width="1" height="61"/>
<rect x="559" y="667" width="1" height="65"/>
<rect x="567" y="667" width="1" height="66"/>
<rect x="575" y="667" width="1" height="66"/>
<rect x="583" y="667" width="1" height="66"/>
<rect x="591" y="667" width="1" height="68"/>
<rect x="599" y="667" width="1" height="67"/>
<rect x="607" y="667" width="1" height="66"/>
<rect x="615" y="667" width="1" height="63"/>
<rect x="623" y="667" width="1" height="60"/>
<rect x="631" y="667" width="1" height="53"/>
<rect x="639" y="667" width="1" height="50"/>
<rect x="647" y="667" width="1" height="56"/>
<rect x="655" y="667" width="1" height="59"/>
<rect x="663" y="667" width="1" height="61"/>
<rect x="671" y="667" width="1" height="63"/>
<rect x="679" y="667" width="1" height="68"/>
<rect x="687" y="667" width="1" height="71"/>
<rect x="695" y="667" width="1" height="68"/>
<rect x="703" y="667" width="1" height="64"/>
<rect x="711" y="667" width="1" height="57"/>
<rect x="719" y="667" width="1" height="52"/>
<rect x="727" y="667" width="1" height="44"/>
<rect x="735" y="667" width="1" height="35"/>
<rect x="743" y="667" width="1" height="26"/>
<rect x="751" y="667" width="1" height="18"/>
<rect x="759" y="667" width="1" height="16"/>
<rect x="767" y="667" width="1" height="14"/>
<rect x="775" y="667" width="1" height="11"/>
<rect x="783" y="667" width="1" height="7"/>
<rect x="791" y="667" width="1" height="5"/>
<rect x="799" y="667" width="1" height="4"/>
<rect x="807" y="667" width="1" height="1"/>
<rect x="815" y="664" width="1" height="4"/>
<rect x="823" y="658" width="1" height="10"/>
<rect x="831" y="655" width="1" height="13"/>
<rect x="839" y="649" width="1" height="19"/>
<rect x="847" y="644" width="1" height="24"/>
<rect x="855" y="643" width="1" height="25"/>
<rect x="863" y="642" width="1" height="26"/>
<rect x="871" y="644" width="1" height="24"/>
<rect x="879" y="654" width="1" height="14"/>
<rect x="887" y="667" width="1" height="1"/>
<rect x="895" y="667" width="1" height="13"/>
<rect x="903" y="667" width="1" height="20"/>
<rect x="911" y="667" width="1" height="29"/>
<rect x="919" y="667" width="1" height="35"/>
<rect x="927" y="667" width="1" height="37"/>
<rect x="935" y="667" width="1" height="41"/>
<rect x="943" y="667" width="1" height="42"/>
<rect x="951" y="667" width="1" height="41"/>
<rect x="959" y="667" width="1" height="38"/>
<rect x="967" y="667" width="1" height="34"/>
<rect x="975" y="667" width="1" height="40"/>
<rect x="983" y="667" width="1" height="40"/>
<rect x="991" y="667" width="1" height="36"/>
<rect x="999" y="667" width="1" height="32"/>
<rect x="1007" y="667" width="1" height="28"/>
<rect x="1015" y="667" width="1" height="25"/>
<rect x="1023" y="667" width="1" height="19"/>
<rect x="1031" y="667" width="1" height="14"/>
<rect x="1039" y="667" width="1" height="12"/>
<rect x="1047" y="667" width="1" height="11"/>
<rect x="1055" y="667" width="1" height="13"/>
<rect x="1063" y="667" width="1" height="13"/>
<rect x="1071" y="667" width="1" height="15"/>
<rect x="1079" y="667" width="1" height="13"/>
<rect x="1087" y="667" width="1" height="9"/>
<rect x="1095" y="667" width="1" height="6"/>
<rect x="1103" y="667" width="1" height="4"/>
<rect x="1111" y="667" width="1" height="6"/>
<rect x="1119" y="667" width="1" height="4"/>
<rect x="1127" y="667" width="1" height="1"/>
<rect x="1135" y="665" width="1" height="3"/>
<rect x="1143" y="662" width="1" height="6"/>
<rect x="1151" y="659" width="1" height="9"/>
<rect x="1159" y="655" width="1" height="13"/>
<rect x="1167" y="647" width="1" height="21"/>
<rect x="1175" y="641" width="1" height="27"/>
<rect x="1183" y="636" width="1" height="32"/>
<rect x="1191" y="633" width="1" height="35"/>
<rect x="1199" y="631" width="1" height="37"/>
<rect x="1207" y="629" width="1" height="39"/>
<rect x="1215" y="620" width="1" height="48"/>
<rect x="1223" y="611" width="1" height="57"/>
<rect x="1231" y="603" width="1" height="65"/>
<rect x="1239" y="597" width="1" height="71"/>
<rect x="1247" y="591" width="1" height="77"/>
<rect x="1255" y="589" width="1" height="79"/>
<rect x="1263" y="588" width="1" height="80"/>
<rect x="1271" y="588" width="1" height="80"/>
<rect x="1279" y="589" width="1" height="79"/>
<rect x="1287" y="592" width="1" height="76"/>
<rect x="1295" y="598" width="1" height="70"/>
<rect x="1303" y="604" width="1" height="64"/>
<rect x="1311" y="608" width="1" height="60"/>
<rect x="1319" y="614" width="1" height="54"/>
<rect x="1327" y="618" width="1" height="50"/>
<rect x="1335" y="621" width="1" height="47"/>
<rect x="1343" y="625" width="1" height="43"/>
<rect x="1351" y="628" width="1" height="40"/>
<rect x="1359" y="637" width="1" height="31"/>
<rect x="1367" y="643" width="1" height="25"/>
<rect x="1375" y="648" width="1" height="20"/>
<rect x="1383" y="652" width="1" height="16"/>
</g>
<polyline points="-0.5,656 7.5,659 15.5,663 23.5,667.8 31.5,676 39.5,685 47.5,693 55.5,701 63.5,707.8 71.5,715.1 79.5,720.59 87.5,724.67 95.5,727.16 103.5,728.19 111.5,728.83 119.5,729.38 127.5,729.83 135.5,729.61 143.5,729.75 151.5,730.37 159.5,731.31 167.5,732.44 175.5,733.38 183.5,733.26 191.5,731.58 199.5,728.78 207.5,725.66 215.5,721.62 223.5,717.13 231.5,712.3 239.5,706.96 247.5,702 255.5,697.69 263.5,695.27 271.5,694.32 279.5,694.02 287.5,695.29 295.5,697.54 303.5,700.66 311.5,704.08 319.5,707.43 327.5,710.14 335.5,711.4 343.5,711.71 351.5,711.01 359.5,709.53 367.5,707.15 375.5,704.26 383.5,701.27 391.5,698.1 399.5,695.35 407.5,691.28 415.5,686.12 423.5,680.6 431.5,674.87 439.5,669.21 447.5,665.27 455.5,662.58 463.5,660.97 471.5,659.93 479.5,661.18 487.5,664.2 495.5,668.84 503.5,674.32 511.5,680.76 519.5,686.22 527.5,691.2 535.5,695.99 543.5,700.86 551.5,705.99 559.5,711.03 567.5,715.6 575.5,719.88 583.5,723.41 591.5,726.74 599.5,729.56 607.5,731.74 615.5,732.88 623.5,732.77 631.5,731.42 639.5,729.54 647.5,728.4 655.5,727.68 663.5,726.85 671.5,726.36 679.5,726.53 687.5,727.42 695.5,728.38 703.5,729.64 711.5,730.51 719.5,730 727.5,728.37 735.5,725.49 743.5,721.44 751.5,715.93 759.5,709.84 767.5,703.79 775.5,697.83 783.5,692.21 791.5,687.05 799.5,682.52 807.5,678.83 815.5,675.6 823.5,672.64 831.5,669.47 839.5,665.9 847.5,662.21 855.5,658.73 863.5,655.38 871.5,652.38 879.5,650.78 887.5,651.07 895.5,653.45 903.5,657 911.5,662.22 919.5,668.66 927.5,675.49 935.5,682.78 943.5,690.03 951.5,695.98 959.5,700.18 967.5,702.58 975.5,704.83 983.5,706.1 991.5,706.12 999.5,705.6 1007.5,704.23 1015.5,702.4 1023.5,700.04 1031.5,697.4 1039.5,694.94 1047.5,691.78 1055.5,688.76 1063.5,686.25 1071.5,684.36 1079.5,682.68 1087.5,680.92 1095.5,679.38 1103.5,678.31 1111.5,677.62 1119.5,676.81 1127.5,675.38 1135.5,673.69 1143.5,671.47 1151.5,669.11 1159.5,666.74 1167.5,663.95 1175.5,660.55 1183.5,656.39 1191.5,652.14 1199.5,648.1 1207.5,644.1 1215.5,639.42 1223.5,634.11 1231.5,628.37 1239.5,622.82 1247.5,617.33 1255.5,612.09 1263.5,607.07 1271.5,602.29 1279.5,597.84 1287.5,594.72 1295.5,593.31 1303.5,593.4 1311.5,594.62 1319.5,597.17 1327.5,600.39 1335.5,604.08 1343.5,608.19 1351.5,612.51 1359.5,617.53 1367.5,622.51 1375.5,627.39 1383.5,632.27" fill="none" stroke="#ff0000" stroke-width="1" stroke-dasharray="3,3" shape-rendering="crispEdges"/>
<line x1="1274" y1="586" x2="1381.25" y2="659.85" stroke="#ff0000" stroke-width="3.2" stroke-linecap="square"/>
<path d="M1388,664.5 L1377.05,662.42 L1382.15,655.01 Z" fill="#ff0000" stroke="#ff0000" stroke-width="1" stroke-linejoin="round"/>
</g>
<g clip-path="url(#cRsi)">
<g stroke="#c0c0c0" stroke-width="1" stroke-dasharray="3,3" stroke-dashoffset="2" shape-rendering="crispEdges">
<line x1="0" y1="786.5" x2="1614" y2="786.5"/>
<line x1="0" y1="837.5" x2="1614" y2="837.5"/>
<line x1="0" y1="898.5" x2="1614" y2="898.5"/>
</g>
<polyline points="-0.5,853.5 7.5,855.2 15.5,873.53 23.5,880.48 31.5,881.91 39.5,883.73 47.5,885.92 55.5,883.65 63.5,888.11 71.5,853.47 79.5,854.21 87.5,850.17 95.5,856.95 103.5,854.77 111.5,869.69 119.5,874.57 127.5,872.37 135.5,866.13 143.5,860.72 151.5,864.81 159.5,858.84 167.5,863.92 175.5,852.47 183.5,853.39 191.5,844.19 199.5,844.34 207.5,851.14 215.5,830.67 223.5,840.69 231.5,835.69 239.5,835.69 247.5,842.59 255.5,849.26 263.5,864.5 271.5,863.89 279.5,858.57 287.5,861.25 295.5,865.02 303.5,861.37 311.5,852.31 319.5,853.05 327.5,847.99 335.5,848.67 343.5,853.09 351.5,839.84 359.5,844.18 367.5,842.21 375.5,843.65 383.5,841.2 391.5,838.58 399.5,847.97 407.5,812.7 415.5,815.51 423.5,814.87 431.5,819.81 439.5,822.86 447.5,855.51 455.5,850.59 463.5,850.59 471.5,851.16 479.5,854.24 487.5,855.68 495.5,859.86 503.5,854.14 511.5,862.37 519.5,862.21 527.5,864.18 535.5,868.17 543.5,872.93 551.5,878.7 559.5,873.85 567.5,869.82 575.5,867.93 583.5,867.23 591.5,874.64 599.5,867.28 607.5,867.97 615.5,859.71 623.5,860.33 631.5,846.06 639.5,853.76 647.5,872.31 655.5,866.46 663.5,866.63 671.5,869.68 679.5,875.98 687.5,875.46 695.5,860.51 703.5,855.69 711.5,847.24 719.5,847.36 727.5,841.04 735.5,830.94 743.5,830.81 751.5,826.47 759.5,840.63 767.5,839.33 775.5,835.21 783.5,832.35 791.5,836.34 799.5,836.14 807.5,832.67 815.5,825.55 823.5,817.62 831.5,820.4 839.5,812.44 847.5,812.66 855.5,819.36 863.5,821.39 871.5,829.56 879.5,857.69 887.5,867.04 895.5,871.85 903.5,860.29 911.5,867.51 919.5,867.25 927.5,856.63 935.5,861.79 943.5,857.99 951.5,852.82 959.5,848.16 967.5,845.83 975.5,864.26 983.5,853.02 991.5,842.4 999.5,843.88 1007.5,840.53 1015.5,842.22 1023.5,833.38 1031.5,832.24 1039.5,839.59 1047.5,841.43 1055.5,847.14 1063.5,844.69 1071.5,851.25 1079.5,838.52 1087.5,833.77 1095.5,831.42 1103.5,837.48 1111.5,845.28 1119.5,835.49 1127.5,828.7 1135.5,831.96 1143.5,830.23 1151.5,825.23 1159.5,822.57 1167.5,811.27 1175.5,809.51 1183.5,809.2 1191.5,813.02 1199.5,811.49 1207.5,810.6 1215.5,795.56 1223.5,791.16 1231.5,789.69 1239.5,788.71 1247.5,785.86 1255.5,791.45 1263.5,794.04 1271.5,793.24 1279.5,796.01 1287.5,804.53 1295.5,818.02 1303.5,819.06 1311.5,815.37 1319.5,825.35 1327.5,819.04 1335.5,819.76 1343.5,822.86 1351.5,821.48 1359.5,850.03 1367.5,841.83 1375.5,842.25 1383.5,842.25" fill="none" stroke="#1e90ff" stroke-width="1" shape-rendering="crispEdges"/>
<line x1="1247.5" y1="785" x2="1374.98" y2="840.24" stroke="#ff0000" stroke-width="3.2" stroke-linecap="square"/>
<path d="M1382.5,843.5 L1371.35,843.57 L1374.93,835.32 Z" fill="#ff0000" stroke="#ff0000" stroke-width="1" stroke-linejoin="round"/>
</g>
<g class="sl">
<g shape-rendering="crispEdges" fill="#000">
<rect x="1615" y="45" width="3" height="1"/>
<rect x="1615" y="78" width="3" height="1"/>
<rect x="1615" y="111" width="3" height="1"/>
<rect x="1615" y="144" width="3" height="1"/>
<rect x="1615" y="177" width="3" height="1"/>
<rect x="1615" y="210" width="3" height="1"/>
<rect x="1615" y="243" width="3" height="1"/>
<rect x="1615" y="276" width="3" height="1"/>
<rect x="1615" y="309" width="3" height="1"/>
<rect x="1615" y="342" width="3" height="1"/>
<rect x="1615" y="375" width="3" height="1"/>
<rect x="1615" y="408" width="3" height="1"/>
<rect x="1615" y="441" width="3" height="1"/>
<rect x="1615" y="474" width="3" height="1"/>
<rect x="1615" y="507" width="3" height="1"/>
<rect x="1615" y="540" width="3" height="1"/>
<rect x="1615" y="573" width="3" height="1"/>
</g>
<text x="1620" y="49" font-size="10" fill="#000" color="#000" textLength="38.2" lengthAdjust="spacingAndGlyphs" >4398.700</text>
<text x="1620" y="82" font-size="10" fill="#000" color="#000" textLength="38.2" lengthAdjust="spacingAndGlyphs" >4361.245</text>
<text x="1620" y="115" font-size="10" fill="#000" color="#000" textLength="38.2" lengthAdjust="spacingAndGlyphs" >4322.655</text>
<text x="1620" y="148" font-size="10" fill="#000" color="#000" textLength="38.2" lengthAdjust="spacingAndGlyphs" >4285.200</text>
<text x="1620" y="181" font-size="10" fill="#000" color="#000" textLength="38.2" lengthAdjust="spacingAndGlyphs" >4247.745</text>
<text x="1620" y="214" font-size="10" fill="#000" color="#000" textLength="38.2" lengthAdjust="spacingAndGlyphs" >4210.290</text>
<text x="1620" y="247" font-size="10" fill="#000" color="#000" textLength="38.2" lengthAdjust="spacingAndGlyphs" >4172.835</text>
<text x="1620" y="280" font-size="10" fill="#000" color="#000" textLength="38.2" lengthAdjust="spacingAndGlyphs" >4134.245</text>
<text x="1620" y="313" font-size="10" fill="#000" color="#000" textLength="38.2" lengthAdjust="spacingAndGlyphs" >4096.790</text>
<text x="1620" y="346" font-size="10" fill="#000" color="#000" textLength="38.2" lengthAdjust="spacingAndGlyphs" >4059.335</text>
<text x="1620" y="379" font-size="10" fill="#000" color="#000" textLength="38.2" lengthAdjust="spacingAndGlyphs" >4020.745</text>
<text x="1620" y="412" font-size="10" fill="#000" color="#000" textLength="38.2" lengthAdjust="spacingAndGlyphs" >3984.425</text>
<text x="1620" y="445" font-size="10" fill="#000" color="#000" textLength="38.2" lengthAdjust="spacingAndGlyphs" >3945.835</text>
<text x="1620" y="478" font-size="10" fill="#000" color="#000" textLength="38.2" lengthAdjust="spacingAndGlyphs" >3908.380</text>
<text x="1620" y="511" font-size="10" fill="#000" color="#000" textLength="38.2" lengthAdjust="spacingAndGlyphs" >3870.925</text>
<text x="1620" y="544" font-size="10" fill="#000" color="#000" textLength="38.2" lengthAdjust="spacingAndGlyphs" >3833.470</text>
<text x="1620" y="577" font-size="10" fill="#000" color="#000" textLength="38.2" lengthAdjust="spacingAndGlyphs" >3796.015</text>
<rect x="1616" y="221" width="46" height="11" fill="#dc143c" shape-rendering="crispEdges"/>
<text x="1620" y="230" font-size="10" fill="#fff" color="#fff" textLength="38.2" lengthAdjust="spacingAndGlyphs" >4191.699</text>
<rect x="1616" y="256" width="46" height="11" fill="#dc143c" shape-rendering="crispEdges"/>
<text x="1620" y="265" font-size="10" fill="#fff" color="#fff" textLength="38.2" lengthAdjust="spacingAndGlyphs" >4151.790</text>
<rect x="1616" y="290" width="46" height="11" fill="#ffa500" shape-rendering="crispEdges"/>
<text x="1620" y="299" font-size="10" fill="#fff" color="#fff" textLength="38.2" lengthAdjust="spacingAndGlyphs" >4113.021</text>
<rect x="1616" y="304" width="46" height="11" fill="#000000" shape-rendering="crispEdges"/>
<text x="1620" y="313" font-size="10" fill="#fff" color="#fff" textLength="38.2" lengthAdjust="spacingAndGlyphs" >4096.550</text>
<rect x="1616" y="335" width="46" height="11" fill="#0000ff" shape-rendering="crispEdges"/>
<text x="1620" y="344" font-size="10" fill="#fff" color="#fff" textLength="38.2" lengthAdjust="spacingAndGlyphs" >4061.710</text>
<rect x="1616" y="371" width="46" height="11" fill="#0000ff" shape-rendering="crispEdges"/>
<text x="1620" y="380" font-size="10" fill="#fff" color="#fff" textLength="38.2" lengthAdjust="spacingAndGlyphs" >4020.661</text>
<g shape-rendering="crispEdges" fill="#000"><rect x="1615" y="580" width="3" height="1"/><rect x="1615" y="667" width="3" height="1"/><rect x="1615" y="747" width="3" height="1"/><rect x="1615" y="752" width="3" height="1"/><rect x="1615" y="786" width="3" height="1"/><rect x="1615" y="837" width="3" height="1"/><rect x="1615" y="898" width="3" height="1"/><rect x="1615" y="923" width="3" height="1"/></g>
<text x="1618" y="589.5" font-size="10" fill="#000" color="#000" textLength="32" lengthAdjust="spacingAndGlyphs" >65.0345</text>
<text x="1619" y="671" font-size="10" fill="#000" color="#000" textLength="17" lengthAdjust="spacingAndGlyphs" >0.00</text>
<text x="1618" y="745" font-size="10" fill="#000" color="#000" textLength="35" lengthAdjust="spacingAndGlyphs" >-60.4479</text>
<text x="1618" y="761" font-size="10" fill="#000" color="#000" textLength="15" lengthAdjust="spacingAndGlyphs" >100</text>
<text x="1617" y="790.5" font-size="10" fill="#000" color="#000" textLength="10" lengthAdjust="spacingAndGlyphs" >80</text>
<text x="1617" y="841.5" font-size="10" fill="#000" color="#000" textLength="10" lengthAdjust="spacingAndGlyphs" >50</text>
<text x="1618" y="902" font-size="10" fill="#000" color="#000" textLength="10" lengthAdjust="spacingAndGlyphs" >15</text>
<text x="1618" y="921" font-size="10" fill="#000" color="#000" textLength="5" lengthAdjust="spacingAndGlyphs" >0</text>
<g shape-rendering="crispEdges" fill="#000">
<rect x="-9" y="925" width="1" height="3"/>
<rect x="55" y="925" width="1" height="3"/>
<rect x="119" y="925" width="1" height="3"/>
<rect x="183" y="925" width="1" height="3"/>
<rect x="247" y="925" width="1" height="3"/>
<rect x="311" y="925" width="1" height="3"/>
<rect x="375" y="925" width="1" height="3"/>
<rect x="439" y="925" width="1" height="3"/>
<rect x="503" y="925" width="1" height="3"/>
<rect x="567" y="925" width="1" height="3"/>
<rect x="631" y="925" width="1" height="3"/>
<rect x="695" y="925" width="1" height="3"/>
<rect x="759" y="925" width="1" height="3"/>
<rect x="823" y="925" width="1" height="3"/>
<rect x="887" y="925" width="1" height="3"/>
<rect x="951" y="925" width="1" height="3"/>
<rect x="1015" y="925" width="1" height="3"/>
<rect x="1079" y="925" width="1" height="3"/>
<rect x="1143" y="925" width="1" height="3"/>
<rect x="1207" y="925" width="1" height="3"/>
<rect x="1271" y="925" width="1" height="3"/>
<rect x="1335" y="925" width="1" height="3"/>
</g>
<text x="3.6" y="937" font-size="10" fill="#000" color="#000" textLength="37.1" lengthAdjust="spacingAndGlyphs" >Apr 2022</text>
<text x="54.5" y="937" font-size="10" fill="#000" color="#000" textLength="53.87" lengthAdjust="spacingAndGlyphs" >25 Apr 08:00</text>
<text x="118.5" y="937" font-size="10" fill="#000" color="#000" textLength="53.87" lengthAdjust="spacingAndGlyphs" >26 Apr 16:00</text>
<text x="182.5" y="937" font-size="10" fill="#000" color="#000" textLength="53.87" lengthAdjust="spacingAndGlyphs" >28 Apr 00:00</text>
<text x="246.5" y="937" font-size="10" fill="#000" color="#000" textLength="53.87" lengthAdjust="spacingAndGlyphs" >29 Apr 08:00</text>
<text x="310.5" y="937" font-size="10" fill="#000" color="#000" textLength="52.28" lengthAdjust="spacingAndGlyphs" >2 May 16:00</text>
<text x="374.5" y="937" font-size="10" fill="#000" color="#000" textLength="52.28" lengthAdjust="spacingAndGlyphs" >4 May 00:00</text>
<text x="438.5" y="937" font-size="10" fill="#000" color="#000" textLength="52.28" lengthAdjust="spacingAndGlyphs" >5 May 08:00</text>
<text x="502.5" y="937" font-size="10" fill="#000" color="#000" textLength="52.28" lengthAdjust="spacingAndGlyphs" >6 May 16:00</text>
<text x="566.5" y="937" font-size="10" fill="#000" color="#000" textLength="57.56" lengthAdjust="spacingAndGlyphs" >10 May 00:00</text>
<text x="630.5" y="937" font-size="10" fill="#000" color="#000" textLength="56.86" lengthAdjust="spacingAndGlyphs" >11 May 08:00</text>
<text x="694.5" y="937" font-size="10" fill="#000" color="#000" textLength="57.56" lengthAdjust="spacingAndGlyphs" >12 May 16:00</text>
<text x="758.5" y="937" font-size="10" fill="#000" color="#000" textLength="57.56" lengthAdjust="spacingAndGlyphs" >16 May 00:00</text>
<text x="822.5" y="937" font-size="10" fill="#000" color="#000" textLength="57.56" lengthAdjust="spacingAndGlyphs" >17 May 08:00</text>
<text x="886.5" y="937" font-size="10" fill="#000" color="#000" textLength="57.56" lengthAdjust="spacingAndGlyphs" >18 May 16:00</text>
<text x="950.5" y="937" font-size="10" fill="#000" color="#000" textLength="57.56" lengthAdjust="spacingAndGlyphs" >20 May 00:00</text>
<text x="1014.5" y="937" font-size="10" fill="#000" color="#000" textLength="57.56" lengthAdjust="spacingAndGlyphs" >23 May 08:00</text>
<text x="1078.5" y="937" font-size="10" fill="#000" color="#000" textLength="57.56" lengthAdjust="spacingAndGlyphs" >24 May 16:00</text>
<text x="1142.5" y="937" font-size="10" fill="#000" color="#000" textLength="57.56" lengthAdjust="spacingAndGlyphs" >26 May 00:00</text>
<text x="1206.5" y="937" font-size="10" fill="#000" color="#000" textLength="57.56" lengthAdjust="spacingAndGlyphs" >27 May 08:00</text>
<text x="1270.5" y="937" font-size="10" fill="#000" color="#000" textLength="57.56" lengthAdjust="spacingAndGlyphs" >30 May 16:00</text>
<text x="1334.5" y="937" font-size="10" fill="#000" color="#000" textLength="49.65" lengthAdjust="spacingAndGlyphs" >1 Jun 00:00</text>
<text x="6.2" y="35" font-size="10" fill="#000" color="#000" textLength="44.4" lengthAdjust="spacingAndGlyphs" >SP500-,H4</text>
<text x="57" y="35" font-size="10" fill="#000" color="#000" textLength="37.5" lengthAdjust="spacingAndGlyphs" >4096.550</text>
<text x="98" y="35" font-size="10" fill="#000" color="#000" textLength="37.5" lengthAdjust="spacingAndGlyphs" >4096.550</text>
<text x="139" y="35" font-size="10" fill="#000" color="#000" textLength="37.5" lengthAdjust="spacingAndGlyphs" >4096.550</text>
<text x="180" y="35" font-size="10" fill="#000" color="#000" textLength="37.5" lengthAdjust="spacingAndGlyphs" >4096.550</text>
<rect x="0" y="33" width="1" height="1" fill="#000"/>
<text x="-6.05" y="590.7" font-size="10" fill="#000" color="#000" textLength="138.9" lengthAdjust="spacingAndGlyphs" >MACD(12,26,9) 10.7814 26.2454</text>
<text x="-5.85" y="763" font-size="10" fill="#000" color="#000" textLength="67.5" lengthAdjust="spacingAndGlyphs" >RSI(14) 47.4506</text>
</g>
<g shape-rendering="crispEdges">
<rect x="0" y="41" width="214" height="61" fill="#fff"/>
<rect x="0" y="43" width="46" height="24" fill="url(#gSellTop)"/>
<rect x="0" y="43" width="46" height="1" fill="#c01818"/><rect x="45" y="43" width="1" height="24" fill="#c01818"/>
<rect x="161" y="43" width="52" height="24" fill="url(#gSellTop)"/>
<rect x="161" y="43" width="52" height="1" fill="#c01818"/><rect x="161" y="43" width="1" height="24" fill="#c01818"/><rect x="212" y="43" width="1" height="24" fill="#c01818"/>
<rect x="0" y="67" width="103" height="33" fill="url(#gSellBot)"/>
<rect x="105" y="67" width="108" height="33" fill="url(#gSellBot)"/>
<rect x="0" y="66" width="42" height="1" fill="#8a0000"/><rect x="0" y="67" width="42" height="1" fill="#e86060"/>
<rect x="165" y="66" width="44" height="1" fill="#8a0000"/><rect x="165" y="67" width="44" height="1" fill="#e86060"/>
<rect x="48" y="43" width="111" height="22" fill="#a8a8a8"/>
<rect x="49" y="44" width="20" height="20" fill="url(#gBtn)"/>
<rect x="69" y="44" width="1" height="20" fill="#b8b8b8"/>
<rect x="70" y="44" width="68" height="20" fill="#ffffff"/>
<rect x="138" y="44" width="1" height="20" fill="#b8b8b8"/>
<rect x="139" y="44" width="19" height="20" fill="url(#gBtn)"/>
</g>
<path d="M56,52 h5 l-2.5,3 z" fill="#4a5ec8"/>
<path d="M145.5,55 h5 l-2.5,-3 z" fill="#4a5ec8"/>
<path d="M50.5,48.5 l1,-1 l1,1 l-1,1 z" fill="none" stroke="#000" stroke-width="0.8"/>
<text x="6.3" y="59.2" font-size="12.5" fill="#fff" color="#fff" textLength="25.7" lengthAdjust="spacingAndGlyphs" >SELL</text>
<text x="174.6" y="59.2" font-size="12.5" fill="#fff" color="#fff" textLength="23.4" lengthAdjust="spacingAndGlyphs" >BUY</text>
<text x="110.8" y="58" font-size="12.5" fill="#000" color="#000" textLength="23.1" lengthAdjust="spacingAndGlyphs" >1.00</text>
<text x="9.9" y="94.8" font-size="12" fill="#fff" color="#fff" textLength="28.1" lengthAdjust="spacingAndGlyphs" font-weight="bold" >4096</text>
<text x="42.5" y="94.8" font-size="33" fill="#fff" color="#fff" textLength="32.8" lengthAdjust="spacingAndGlyphs" >53</text>
<text x="81.9" y="79" font-size="12.5" fill="#fff" color="#fff" textLength="5.9" lengthAdjust="spacingAndGlyphs" font-weight="bold" >5</text>
<text x="120.2" y="95.1" font-size="12" fill="#fff" color="#fff" textLength="27.4" lengthAdjust="spacingAndGlyphs" font-weight="bold" >4097</text>
<text x="153.2" y="95.1" font-size="33" fill="#fff" color="#fff" textLength="34.3" lengthAdjust="spacingAndGlyphs" >36</text>
<text x="192.9" y="78.9" font-size="12.5" fill="#fff" color="#fff" textLength="5.4" lengthAdjust="spacingAndGlyphs" font-weight="bold" >5</text>
</svg></body></html>
